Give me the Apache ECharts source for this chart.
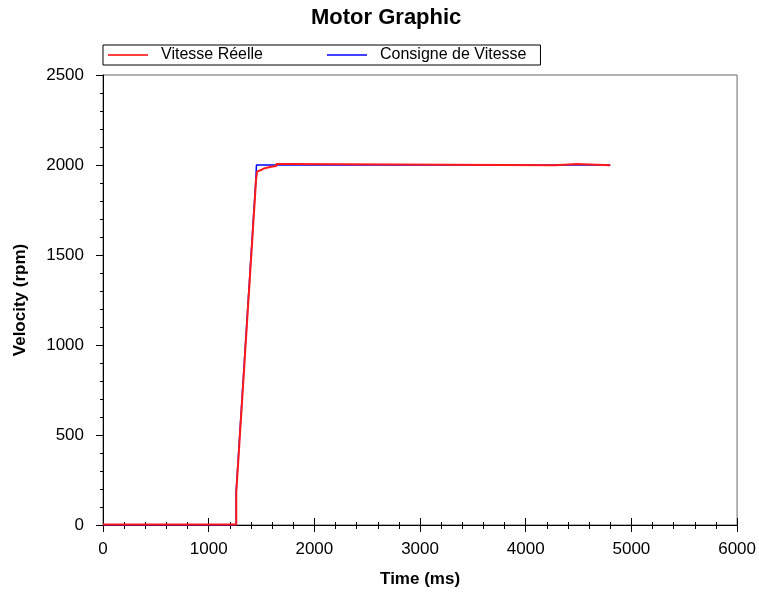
<!DOCTYPE html>
<html>
<head>
<meta charset="utf-8">
<script src="https://cdn.jsdelivr.net/npm/echarts@6/dist/echarts.min.js"></script>
<style>html,body{margin:0;padding:0;background:#fff;}#c{width:759px;height:593px;}</style>
</head>
<body>
<div id="c"></div>
<script>
// Vitesse Réelle (measured speed), sample-and-hold points
var redTime  = [0, 1261, 1273, 1286, 1298, 1311, 1323, 1336, 1348, 1361, 1373, 1386, 1398, 1411, 1423, 1436, 1448, 1458, 1475, 1495, 1520, 1550, 1590, 1640, 1780, 4280, 4480, 4800];
var redValue = [3, 180, 290, 410, 525, 641, 756, 873, 989, 1107, 1222, 1338, 1455, 1569, 1686, 1802, 1917, 1963, 1972, 1980, 1985, 1990, 1994, 2006, 1998, 2006, 1998, 1998];
// Consigne de Vitesse (speed setpoint)
var blueTime  = [0, 1260, 1272, 1285, 1297, 1310, 1322, 1335, 1347, 1360, 1372, 1385, 1397, 1410, 1422, 1435, 1447, 1452, 4800];
var blueValue = [0, 190, 300, 420, 535, 651, 766, 883, 999, 1117, 1232, 1348, 1465, 1579, 1696, 1812, 1927, 2000, 2000];
var xTicks = [0, 1000, 2000, 3000, 4000, 5000, 6000];
var yTicks = [0, 500, 1000, 1500, 2000, 2500];

function pairs(t, v) { return t.map(function (x, i) { return [x, v[i]]; }); }
function plain(v) { return String(v); }

var font = 'Liberation Sans, Arial, sans-serif';
var chart = echarts.init(document.getElementById('c'), null, {renderer: 'canvas'});
chart.setOption({
  animation: false,
  backgroundColor: '#fff',
  title: {
    text: 'Motor Graphic', left: 311, top: 7, padding: 0,
    textStyle: {fontFamily: font, fontSize: 22, fontWeight: 'bold', color: '#000'}
  },
  legend: {
    data: ['Vitesse Réelle', 'Consigne de Vitesse'],
    left: 103, top: 45,
    padding: [2, 14, 2, 5],
    backgroundColor: '#fff', borderColor: '#000', borderWidth: 1, borderRadius: 0,
    icon: 'rect', itemWidth: 40, itemHeight: 1.5, itemGap: 64,
    textStyle: {fontFamily: font, fontSize: 16, color: '#000', padding: [0, 0, 0, 8]}
  },
  grid: {
    left: 103, right: 19, top: 75, bottom: 67,
    show: true, borderColor: '#666', borderWidth: 1, backgroundColor: 'transparent'
  },
  xAxis: [{
    type: 'value', min: xTicks[0], max: xTicks[xTicks.length - 1], interval: 1000,
    name: 'Time (ms)', nameLocation: 'middle', nameGap: 46,
    nameTextStyle: {fontFamily: font, fontSize: 17, fontWeight: 'bold', color: '#000'},
    axisLine: {show: true, onZero: false, lineStyle: {color: '#000', width: 1}},
    axisTick: {show: true, inside: false, length: 7, lineStyle: {color: '#000'}},
    minorTick: {show: true, splitNumber: 5, length: 4, lineStyle: {color: '#000'}},
    axisLabel: {fontFamily: font, fontSize: 17, color: '#000', margin: 16, formatter: plain},
    splitLine: {show: false}
  }, {
    type: 'value', min: xTicks[0], max: xTicks[xTicks.length - 1], interval: 1000, position: 'bottom',
    axisLine: {show: false},
    axisTick: {show: true, inside: true, length: 7, lineStyle: {color: '#000'}},
    minorTick: {show: true, splitNumber: 5, length: 3, lineStyle: {color: '#000'}},
    axisLabel: {show: false},
    splitLine: {show: false}
  }],
  yAxis: {
    type: 'value', min: yTicks[0], max: yTicks[yTicks.length - 1], interval: 500,
    name: 'Velocity (rpm)', nameLocation: 'middle', nameGap: 74,
    nameTextStyle: {fontFamily: font, fontSize: 17, fontWeight: 'bold', color: '#000'},
    axisLine: {show: true, onZero: false, lineStyle: {color: '#000', width: 1}},
    axisTick: {show: true, inside: false, length: 7, lineStyle: {color: '#000'}},
    minorTick: {show: true, splitNumber: 5, length: 3, lineStyle: {color: '#000'}},
    axisLabel: {fontFamily: font, fontSize: 17, color: '#000', margin: 19, formatter: plain},
    splitLine: {show: false}
  },
  series: [{
    name: 'Consigne de Vitesse', type: 'line', step: 'end', showSymbol: false, symbol: 'none',
    data: pairs(blueTime, blueValue), z: 2,
    lineStyle: {color: '#0000ff', width: 1.5}, itemStyle: {color: '#0000ff'}
  }, {
    name: 'Vitesse Réelle', type: 'line', step: 'end', showSymbol: false, symbol: 'none',
    data: pairs(redTime, redValue), z: 3,
    lineStyle: {color: '#ff1a1a', width: 2}, itemStyle: {color: '#ff0000'}
  }]
});
</script>
</body>
</html>
